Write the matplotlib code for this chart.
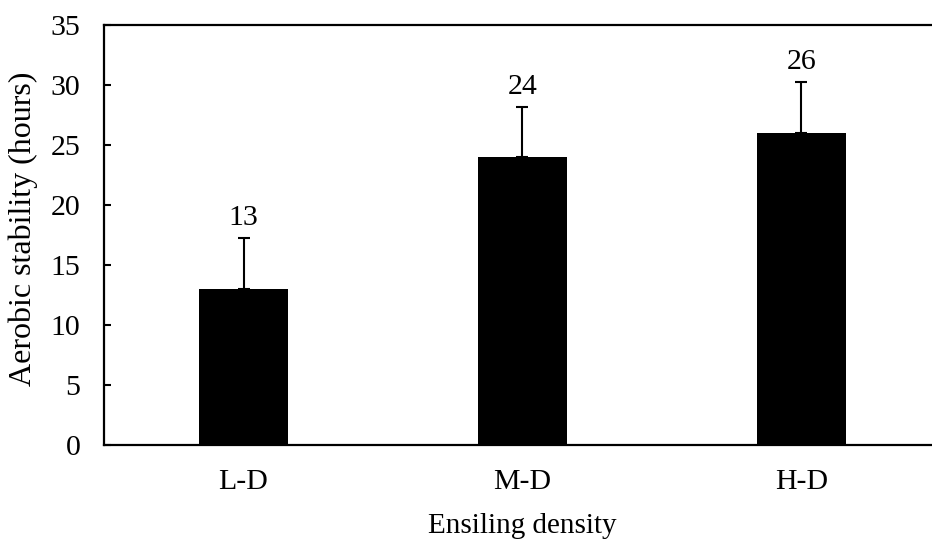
import matplotlib.pyplot as plt
import numpy as np

plt.rcParams['font.family'] = ['Liberation Serif', 'DejaVu Serif']

categories = ['L-D', 'M-D', 'H-D']
values = [13, 24, 26]
errors = [4.2, 4.1, 4.2]
labels = ['13', '24', '26']

fig = plt.figure(figsize=(9.32, 5.39), dpi=100)
# right edge of the plot area runs past the image, as in the original
ax = fig.add_axes([0.1116, 0.1744, 0.898, 0.7801])

x = np.arange(len(categories))
ax.bar(x, values, width=0.32, color='black', zorder=2)
ax.errorbar(x, values, yerr=[np.zeros(len(values)), errors], fmt='none',
            ecolor='black', elinewidth=1.5, capsize=4.3, capthick=1.5, zorder=3)

for xi, v, e, lab in zip(x, values, errors, labels):
    ax.text(xi, v + e + 1.1, lab, ha='center', va='baseline', fontsize=21.5)

ax.set_xlim(-0.5, 2.5)
ax.set_ylim(0, 35)
ax.set_yticks(range(0, 36, 5))
ax.set_xticks(x)
ax.set_xticklabels(categories)
ax.tick_params(axis='y', direction='in', length=5, width=1.5, labelsize=21.5, pad=17)
ax.tick_params(axis='x', length=0, labelsize=21.5, pad=17)

for side in ['left', 'bottom', 'top', 'right']:
    ax.spines[side].set_linewidth(1.6)

ax.set_ylabel('Aerobic stability (hours)', fontsize=23)
ax.yaxis.set_label_coords(-0.0785, 0.515)
ax.set_xlabel('Ensiling density', fontsize=21, va='baseline')
ax.xaxis.set_label_coords(0.5, -0.2095)

plt.savefig('out.png', dpi=100)
plt.close()
